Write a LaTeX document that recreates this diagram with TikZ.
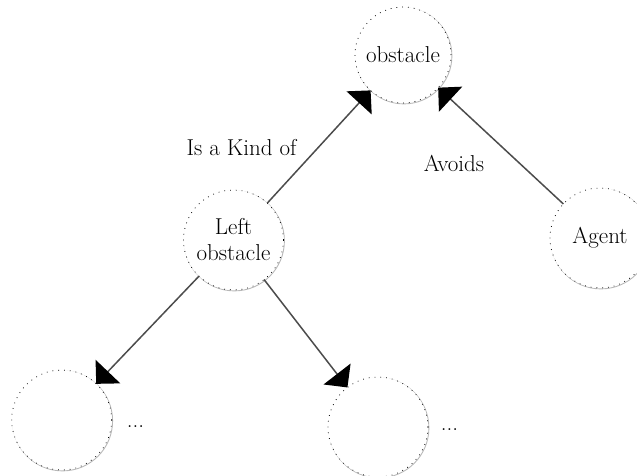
\documentclass[tikz,border=0pt]{standalone}
\usetikzlibrary{arrows.meta}
\begin{document}
\begin{tikzpicture}[x=1pt,y=-1pt,
  concept/.style={circle, minimum size=100pt, inner sep=0pt, outer sep=0pt,
    fill=white, draw=black, line width=0.75pt, dash pattern=on 0.8pt off 5pt,
    preaction={draw=black!28, solid, line width=0.9pt,
      transform canvas={shift={(0.9pt,-0.9pt)}}},
    font=\fontsize{23}{26}\selectfont, align=center},
  relation/.style={draw=black!70, line width=1.5pt,
    -{Triangle[angle=90:24pt, color=black]}},
  caption/.style={font=\fontsize{23}{26}\selectfont, inner sep=0pt},
]
\useasboundingbox (0,0) rectangle (637,476);

% concepts
\node[concept, minimum size=96pt] (obs) at (403,55) {obstacle};
\node[concept] (lo) at (233.5,240) {Left\\obstacle};
\node[concept] (agent) at (600,238) {Agent};
\node[concept] (c1) at (61.7,420) {};
\node[concept] (c2) at (378,427) {};

% continuation marks
\node[caption] (d1) at (135.5,427) {...};
\node[caption] (d2) at (449.5,430) {...};

% relations
\draw[relation] (lo) -- (obs);
\draw[relation] (agent) -- (obs);
\draw[relation] (lo) -- (c1);
\draw[relation] (lo) -- (c2);

% relation labels
\node[caption] (kind) at (241.5,148) {Is a Kind of};
\node[caption] (avoids) at (454,163) {Avoids};
\end{tikzpicture}
\end{document}
